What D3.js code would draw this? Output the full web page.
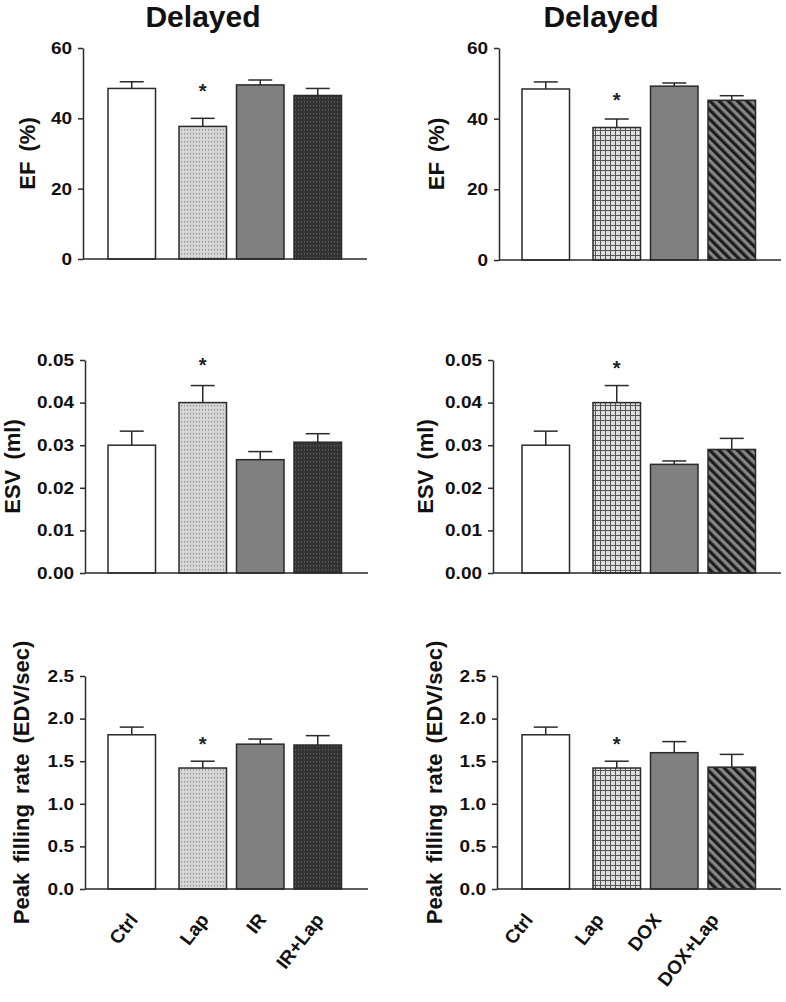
<!DOCTYPE html>
<html><head><meta charset="utf-8">
<script src="https://cdn.jsdelivr.net/npm/d3@7"></script>
<style>
html,body{margin:0;padding:0;background:#fff;}
svg{display:block;font-family:"Liberation Sans",Arial,Helvetica,sans-serif;}
</style></head>
<body>
<svg id="chart" width="786" height="1002"></svg>
<script>
// ---- data ----
const catsIR  = ["Ctrl", "Lap", "IR", "IR+Lap"];
const catsDOX = ["Ctrl", "Lap", "DOX", "DOX+Lap"];

const efIR      = [48.5, 37.7, 49.5, 46.5];
const efIRerr   = [1.9, 2.3, 1.4, 2.0];
const efDOX     = [48.4, 37.5, 49.2, 45.2];
const efDOXerr  = [2.0, 2.4, 0.9, 1.3];

const esvIR     = [0.0300, 0.0400, 0.0266, 0.0307];
const esvIRerr  = [0.0033, 0.0040, 0.0019, 0.0020];
const esvDOX    = [0.0300, 0.0400, 0.0255, 0.0290];
const esvDOXerr = [0.0033, 0.0040, 0.0008, 0.0026];

const pfrIR     = [1.81, 1.42, 1.70, 1.69];
const pfrIRerr  = [0.09, 0.08, 0.06, 0.11];
const pfrDOX    = [1.81, 1.42, 1.60, 1.43];
const pfrDOXerr = [0.09, 0.08, 0.13, 0.15];

const significant = [false, true, false, false];

const efTicks  = [0, 20, 40, 60];
const esvTicks = [0, 0.01, 0.02, 0.03, 0.04, 0.05];
const pfrTicks = [0, 0.5, 1.0, 1.5, 2.0, 2.5];

const titleText = "Delayed";
const efLabel  = "EF (%)";
const esvLabel = "ESV (ml)";
const pfrLabel = "Peak filling rate (EDV/sec)";

// ---- drawing ----
const svg = d3.select("#chart");
const defs = svg.append("defs");

function pat(id, w, h, bg, draw, transform) {
  const p = defs.append("pattern").attr("id", id).attr("patternUnits", "userSpaceOnUse")
    .attr("width", w).attr("height", h);
  if (transform) p.attr("patternTransform", transform);
  p.append("rect").attr("width", w).attr("height", h).attr("fill", bg);
  draw(p);
}
pat("dotsLight", 3, 4, "#d6d6d6", p => p.append("rect").attr("x", 1).attr("y", 1).attr("width", 1).attr("height", 1.5).attr("fill", "#8c8c8c"));
pat("dotsDark", 3, 4, "#333333", p => p.append("rect").attr("x", 1).attr("y", 1).attr("width", 1).attr("height", 1.5).attr("fill", "#5e5e5e"));
pat("grid", 5, 5, "#dedede", p => {
  p.append("rect").attr("x", 0).attr("y", 0).attr("width", 5).attr("height", 1).attr("fill", "#555");
  p.append("rect").attr("x", 0).attr("y", 0).attr("width", 1).attr("height", 5).attr("fill", "#555");
});
pat("stripes", 6.5, 6.5, "#858585", p => p.append("rect").attr("x", 0).attr("y", 0).attr("width", 3.2).attr("height", 6.5).attr("fill", "#1c1c1c"), "rotate(-45)");

const fillsIR  = ["#ffffff", "url(#dotsLight)", "#808080", "url(#dotsDark)"];
const fillsDOX = ["#ffffff", "url(#grid)", "#808080", "url(#stripes)"];

const panels = [
  {cats: catsIR,  vals: efIR,   errs: efIRerr,   ticks: efTicks,  fmt: d3.format("d"),    max: 60,   label: efLabel,  fills: fillsIR,
   axisX: 83,  bx0: 108, xEnd: 367, y0: 259, yTop: 48,  labelOff: -56, title: true, titleX: 203, starGap: 20},
  {cats: catsDOX, vals: efDOX,  errs: efDOXerr,  ticks: efTicks,  fmt: d3.format("d"),    max: 60,   label: efLabel,  fills: fillsDOX,
   axisX: 499, bx0: 522, xEnd: 781, y0: 260, yTop: 48,  labelOff: -63, title: true, titleX: 601, starGap: 12},
  {cats: catsIR,  vals: esvIR,  errs: esvIRerr,  ticks: esvTicks, fmt: d3.format(".2f"),  max: 0.05, label: esvLabel, fills: fillsIR,
   axisX: 85,  bx0: 108, xEnd: 368, y0: 573, yTop: 360, labelOff: -73, starGap: 14},
  {cats: catsDOX, vals: esvDOX, errs: esvDOXerr, ticks: esvTicks, fmt: d3.format(".2f"),  max: 0.05, label: esvLabel, fills: fillsDOX,
   axisX: 493, bx0: 522, xEnd: 781, y0: 573, yTop: 360, labelOff: -68, starGap: 11},
  {cats: catsIR,  vals: pfrIR,  errs: pfrIRerr,  ticks: pfrTicks, fmt: d3.format(".1f"),  max: 2.5,  label: pfrLabel, fills: fillsIR,
   axisX: 85,  bx0: 108, xEnd: 368, y0: 889, yTop: 676, labelOff: -64, xLabels: true, xLabOff: 7, starGap: 10},
  {cats: catsDOX, vals: pfrDOX, errs: pfrDOXerr, ticks: pfrTicks, fmt: d3.format(".1f"),  max: 2.5,  label: pfrLabel, fills: fillsDOX,
   axisX: 497, bx0: 522, xEnd: 781, y0: 889, yTop: 676, labelOff: -63, xLabels: true, xLabOff: -12, starGap: 10}
];

const dark = "#2a2a2a";
const step = 57.5, bw = 47.5, firstGap = 13.5;

panels.forEach(P => {
  const g = svg.append("g");
  const y = d3.scaleLinear().domain([0, P.max]).range([P.y0, P.yTop]);
  const band = d3.scaleBand().domain(P.cats)
    .range([P.bx0, P.bx0 + step * (P.cats.length - (step - bw) / step)])
    .paddingInner((step - bw) / step).paddingOuter(0);
  const x = c => band(c) + (P.cats.indexOf(c) > 0 ? firstGap : 0);
  const data = P.cats.map((c, i) => ({c, v: P.vals[i], e: P.errs[i], f: P.fills[i], s: significant[i]}));

  // error bars (behind bars)
  const eb = g.append("g");
  data.forEach(d => {
    const cx = x(d.c) + bw / 2;
    eb.append("line").attr("x1", cx).attr("x2", cx).attr("y1", y(d.v)).attr("y2", y(d.v + d.e))
      .attr("stroke", dark).attr("stroke-width", 1.5);
    eb.append("line").attr("x1", cx - 12).attr("x2", cx + 12).attr("y1", y(d.v + d.e)).attr("y2", y(d.v + d.e))
      .attr("stroke", dark).attr("stroke-width", 1.5);
  });

  // bars
  g.selectAll("rect.bar").data(data).join("rect").attr("class", "bar")
    .attr("x", d => x(d.c)).attr("width", bw)
    .attr("y", d => y(d.v)).attr("height", d => y(0) - y(d.v))
    .attr("fill", d => d.f).attr("stroke", dark).attr("stroke-width", 1.5);

  // significance stars
  data.filter(d => d.s).forEach(d => {
    g.append("text").attr("x", x(d.c) + bw / 2).attr("y", y(d.v + d.e) - P.starGap)
      .attr("text-anchor", "middle").attr("font-size", 20).attr("font-weight", "bold").attr("fill", "#222").text("*");
  });

  // y axis
  const yAxis = d3.axisLeft(y).tickValues(P.ticks).tickFormat(P.fmt).tickSize(5).tickSizeOuter(0).tickPadding(6);
  const ga = g.append("g").attr("transform", `translate(${P.axisX},0)`).call(yAxis);
  ga.select(".domain").attr("stroke", dark).attr("stroke-width", 1.5);
  ga.selectAll(".tick line").attr("stroke", dark).attr("stroke-width", 1.5);
  ga.selectAll(".tick text").attr("font-size", 19).attr("font-weight", "bold").attr("fill", "#111")
    .attr("transform", "scale(1,0.88)")
    .attr("font-family", '"Liberation Sans",Arial,sans-serif');

  // x axis line
  g.append("line").attr("x1", P.axisX).attr("x2", P.xEnd).attr("y1", P.y0).attr("y2", P.y0)
    .attr("stroke", dark).attr("stroke-width", 1.5);

  // y label
  g.append("text").attr("transform", `translate(${P.axisX + P.labelOff},${(P.y0 + P.yTop) / 2}) rotate(-90)`)
    .attr("text-anchor", "middle").attr("dy", "0.35em").attr("font-size", 22).attr("font-weight", "bold")
    .attr("fill", "#111").attr("word-spacing", 4).text(P.label);

  if (P.title) {
    g.append("text").attr("x", P.titleX).attr("y", 27).attr("text-anchor", "middle")
      .attr("font-size", 30).attr("font-weight", "bold").attr("fill", "#111").text(titleText);
  }

  if (P.xLabels) {
    data.forEach(d => {
      const ax = x(d.c) + bw / 2 + P.xLabOff, ay = P.y0 + 31;
      g.append("text").attr("transform", `translate(${ax},${ay}) rotate(-52)`)
        .attr("text-anchor", "end").attr("font-size", 19).attr("font-weight", "bold").attr("fill", "#111").text(d.c);
    });
  }
});
</script>
</body></html>
